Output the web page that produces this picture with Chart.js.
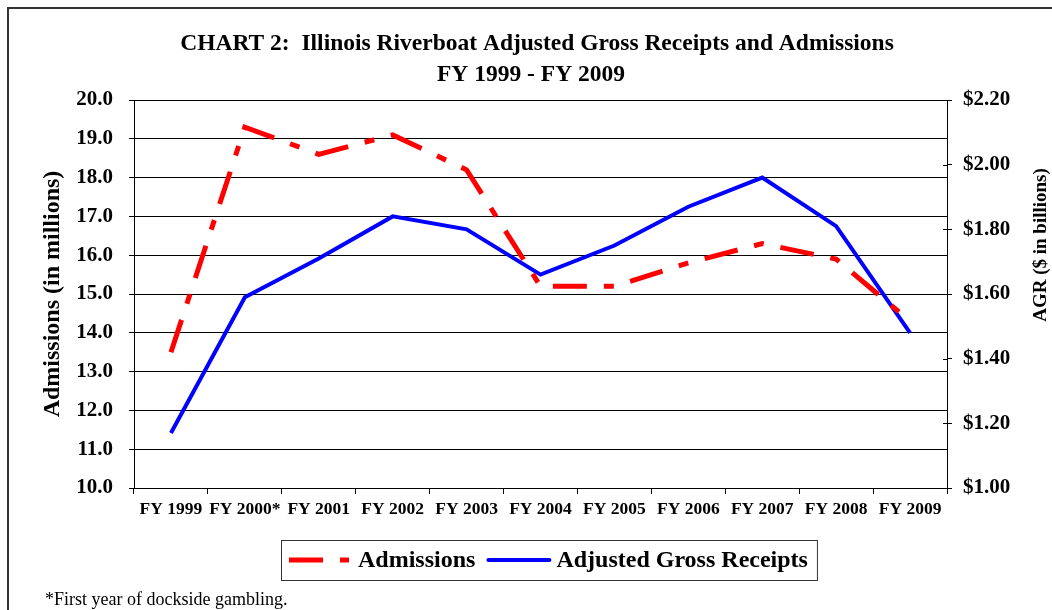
<!DOCTYPE html>
<html>
<head>
<meta charset="utf-8">
<script src="https://cdn.jsdelivr.net/npm/chart.js@4.4.0/dist/chart.umd.min.js"></script>
<style>
html,body{margin:0;padding:0;background:#fff;}
canvas{display:block;}
</style>
</head>
<body>
<canvas id="c" width="1052" height="610"></canvas>
<script>
const categories = ['FY 1999','FY 2000*','FY 2001','FY 2002','FY 2003','FY 2004','FY 2005','FY 2006','FY 2007','FY 2008','FY 2009'];
const admissions = [13.5, 19.3, 18.6, 19.1, 18.2, 15.2, 15.2, 15.8, 16.3, 15.9, 14.3];
const agr = [1.17, 1.59, 1.71, 1.84, 1.80, 1.66, 1.75, 1.87, 1.96, 1.81, 1.48];
const leftTickLabels = ['10.0','11.0','12.0','13.0','14.0','15.0','16.0','17.0','18.0','19.0','20.0'];
const rightTickLabels = ['$1.00','$1.20','$1.40','$1.60','$1.80','$2.00','$2.20'];
const seriesNames = ['Admissions','Adjusted Gross Receipts'];
const titleLines = ['CHART 2:  Illinois Riverboat Adjusted Gross Receipts and Admissions','FY 1999 - FY 2009'];
const leftAxisTitle = 'Admissions (in millions)';
const rightAxisTitle = 'AGR ($ in billions)';
const footnote = '*First year of dockside gambling.';

const SERIF = "'Liberation Serif','Times New Roman',serif";
const RED = '#FF0000', BLUE = '#0000FF';
const RED_DASH = [34, 17, 10, 17];

const decorPlugin = {
  id: 'decor',
  afterDraw(chart) {
    const ctx = chart.ctx;
    ctx.save();
    // outer frame (top and left edges)
    ctx.strokeStyle = '#333';
    ctx.lineWidth = 2;
    ctx.beginPath();
    ctx.moveTo(8, 612); ctx.lineTo(8, 8); ctx.lineTo(1054, 8);
    ctx.stroke();

    // title
    ctx.fillStyle = '#000';
    ctx.textAlign = 'center';
    ctx.textBaseline = 'middle';
    ctx.font = "bold 23.5px " + SERIF;
    ctx.fillText(titleLines[0], 537, 44);
    ctx.fillText(titleLines[1], 531, 75);

    // inside tick marks on right axis
    const y2 = chart.scales.y2;
    const ca = chart.chartArea;
    ctx.strokeStyle = '#000';
    ctx.lineWidth = 1;
    y2.ticks.forEach((t, i) => {
      const py = Math.round(y2.getPixelForTick(i)) + 0.5;
      ctx.beginPath();
      ctx.moveTo(ca.right - 4, py); ctx.lineTo(ca.right, py);
      ctx.stroke();
    });

    // right axis title (reads bottom-to-top)
    ctx.save();
    ctx.translate(1041, 245);
    ctx.rotate(-Math.PI / 2);
    ctx.font = "bold 19px " + SERIF;
    ctx.textAlign = 'center';
    ctx.textBaseline = 'middle';
    ctx.fillText(rightAxisTitle, 0, 0);
    ctx.restore();

    // legend
    const ly = 560;
    ctx.font = "bold 24px " + SERIF;
    ctx.textBaseline = 'middle';
    ctx.textAlign = 'left';
    let x = 281;
    const boxLeft = x;
    x += 8;
    ctx.save();
    ctx.strokeStyle = RED; ctx.lineWidth = 5; ctx.setLineDash(RED_DASH); ctx.lineCap = 'butt';
    ctx.beginPath(); ctx.moveTo(x, ly); ctx.lineTo(x + 60, ly); ctx.stroke();
    ctx.restore();
    x += 69;
    ctx.fillText(seriesNames[0], x, ly + 1);
    x += ctx.measureText(seriesNames[0]).width + 11;
    ctx.save();
    ctx.strokeStyle = BLUE; ctx.lineWidth = 4; ctx.lineCap = 'round';
    ctx.beginPath(); ctx.moveTo(x + 2, ly); ctx.lineTo(x + 63, ly); ctx.stroke();
    ctx.restore();
    x += 70;
    ctx.fillText(seriesNames[1], x, ly + 1);
    x += ctx.measureText(seriesNames[1]).width + 9;
    ctx.strokeStyle = '#333'; ctx.lineWidth = 1;
    ctx.strokeRect(boxLeft + 0.5, 540.5, x - boxLeft, 40);

    // footnote
    ctx.font = "18px " + SERIF;
    ctx.textAlign = 'left';
    ctx.fillText(footnote, 45, 600);
    ctx.restore();
  }
};

new Chart(document.getElementById('c'), {
  type: 'line',
  data: {
    labels: categories,
    datasets: [
      {
        label: seriesNames[0],
        data: admissions,
        yAxisID: 'y',
        borderColor: RED,
        backgroundColor: RED,
        borderWidth: 5,
        borderDash: RED_DASH,
        borderCapStyle: 'butt',
        pointRadius: 0,
        tension: 0,
        fill: false
      },
      {
        label: seriesNames[1],
        data: agr,
        yAxisID: 'y2',
        borderColor: BLUE,
        backgroundColor: BLUE,
        borderWidth: 4,
        pointRadius: 0,
        tension: 0,
        fill: false
      }
    ]
  },
  options: {
    responsive: false,
    animation: false,
    layout: { padding: { top: 100, left: 0, right: 0, bottom: 0 } },
    plugins: {
      legend: { display: false },
      title: { display: false },
      tooltip: { enabled: false }
    },
    scales: {
      x: {
        offset: true,
        grid: { offset: true, drawOnChartArea: false, color: '#000', tickLength: 6 },
        border: { color: '#000', width: 1 },
        ticks: { color: '#000', font: { family: SERIF, size: 17.5, weight: 'bold' }, padding: 5, maxRotation: 0, autoSkip: false },
        afterFit(s) { s.height = 122; }
      },
      y: {
        position: 'left',
        min: 10, max: 20,
        ticks: {
          stepSize: 1,
          color: '#000',
          font: { family: SERIF, size: 21, weight: 'bold' },
          padding: 16,
          callback: (v, i) => leftTickLabels[i]
        },
        grid: { color: '#000', lineWidth: 1, tickLength: 5 },
        border: { color: '#000', width: 1 },
        title: {
          display: true,
          text: leftAxisTitle,
          color: '#000',
          font: { family: SERIF, size: 24, weight: 'bold' },
          padding: { top: 38, bottom: 0 }
        },
        afterFit(s) { s.width = 134; }
      },
      y2: {
        position: 'right',
        min: 1.0, max: 2.2,
        ticks: {
          stepSize: 0.2,
          color: '#000',
          font: { family: SERIF, size: 21, weight: 'bold' },
          padding: 11,
          callback: (v, i) => rightTickLabels[i]
        },
        grid: { drawOnChartArea: false, color: '#000', tickLength: 5 },
        border: { color: '#000', width: 1 },
        afterFit(s) { s.width = 105; }
      }
    }
  },
  plugins: [decorPlugin]
});
</script>
</body>
</html>
